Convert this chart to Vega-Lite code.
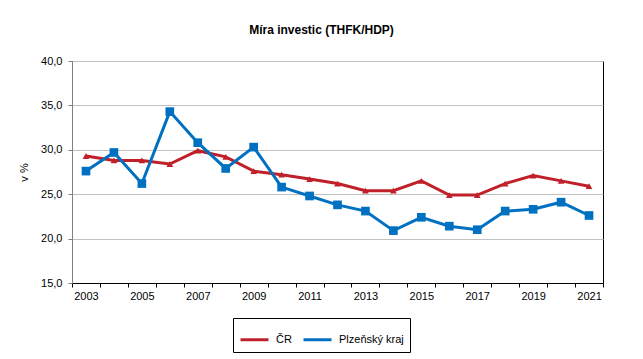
{
  "$schema": "https://vega.github.io/schema/vega-lite/v6.json",
  "autosize": "none",
  "width": 531,
  "height": 222,
  "padding": {"left": 72, "top": 61, "right": 40, "bottom": 76},
  "background": "white",
  "title": {
    "text": "Míra investic (THFK/HDP)",
    "anchor": "middle",
    "frame": "group",
    "dx": -16,
    "baseline": "alphabetic",
    "offset": 9,
    "font": "Liberation Sans",
    "fontSize": 12,
    "fontWeight": "bold",
    "color": "black"
  },
  "config": {
    "font": "Liberation Sans",
    "view": {"stroke": "black", "strokeWidth": 1}
  },
  "data": {
    "values": [
      {"rok": "2003", "serie": "ČR", "hodnota": 29.3},
      {"rok": "2004", "serie": "ČR", "hodnota": 28.8},
      {"rok": "2005", "serie": "ČR", "hodnota": 28.8},
      {"rok": "2006", "serie": "ČR", "hodnota": 28.4},
      {"rok": "2007", "serie": "ČR", "hodnota": 29.9},
      {"rok": "2008", "serie": "ČR", "hodnota": 29.2},
      {"rok": "2009", "serie": "ČR", "hodnota": 27.6},
      {"rok": "2010", "serie": "ČR", "hodnota": 27.2},
      {"rok": "2011", "serie": "ČR", "hodnota": 26.7},
      {"rok": "2012", "serie": "ČR", "hodnota": 26.2},
      {"rok": "2013", "serie": "ČR", "hodnota": 25.4},
      {"rok": "2014", "serie": "ČR", "hodnota": 25.4},
      {"rok": "2015", "serie": "ČR", "hodnota": 26.5},
      {"rok": "2016", "serie": "ČR", "hodnota": 24.9},
      {"rok": "2017", "serie": "ČR", "hodnota": 24.9},
      {"rok": "2018", "serie": "ČR", "hodnota": 26.2},
      {"rok": "2019", "serie": "ČR", "hodnota": 27.1},
      {"rok": "2020", "serie": "ČR", "hodnota": 26.5},
      {"rok": "2021", "serie": "ČR", "hodnota": 25.9},
      {"rok": "2003", "serie": "Plzeňský kraj", "hodnota": 27.6},
      {"rok": "2004", "serie": "Plzeňský kraj", "hodnota": 29.7},
      {"rok": "2005", "serie": "Plzeňský kraj", "hodnota": 26.2},
      {"rok": "2006", "serie": "Plzeňský kraj", "hodnota": 34.3},
      {"rok": "2007", "serie": "Plzeňský kraj", "hodnota": 30.8},
      {"rok": "2008", "serie": "Plzeňský kraj", "hodnota": 27.9},
      {"rok": "2009", "serie": "Plzeňský kraj", "hodnota": 30.3},
      {"rok": "2010", "serie": "Plzeňský kraj", "hodnota": 25.8},
      {"rok": "2011", "serie": "Plzeňský kraj", "hodnota": 24.8},
      {"rok": "2012", "serie": "Plzeňský kraj", "hodnota": 23.8},
      {"rok": "2013", "serie": "Plzeňský kraj", "hodnota": 23.1},
      {"rok": "2014", "serie": "Plzeňský kraj", "hodnota": 20.9},
      {"rok": "2015", "serie": "Plzeňský kraj", "hodnota": 22.4},
      {"rok": "2016", "serie": "Plzeňský kraj", "hodnota": 21.4},
      {"rok": "2017", "serie": "Plzeňský kraj", "hodnota": 21.0},
      {"rok": "2018", "serie": "Plzeňský kraj", "hodnota": 23.1},
      {"rok": "2019", "serie": "Plzeňský kraj", "hodnota": 23.3},
      {"rok": "2020", "serie": "Plzeňský kraj", "hodnota": 24.1},
      {"rok": "2021", "serie": "Plzeňský kraj", "hodnota": 22.6}
    ]
  },
  "encoding": {
    "x": {
      "field": "rok",
      "type": "ordinal",
      "scale": {"type": "band", "paddingInner": 0, "paddingOuter": 0},
      "axis": {
        "title": null,
        "labelAngle": 0,
        "tickBand": "extent",
        "labelExpr": "toNumber(datum.value) % 2 == 1 ? datum.value : ''",
        "domainColor": "black",
        "tickColor": "black",
        "tickSize": 4,
        "labelFontSize": 11,
        "labelColor": "black",
        "labelPadding": 3,
        "grid": false
      }
    },
    "y": {
      "field": "hodnota",
      "type": "quantitative",
      "scale": {"domain": [15, 40], "nice": false, "zero": false},
      "axis": {
        "title": "v %",
        "titleFontSize": 11,
        "titleFontWeight": "normal",
        "titleColor": "black",
        "titlePadding": 11,
        "values": [15, 20, 25, 30, 35, 40],
        "labelExpr": "replace(format(datum.value, '.1f'), '.', ',')",
        "labelFontSize": 11,
        "labelColor": "black",
        "labelPadding": 6,
        "domainColor": "#808080",
        "tickColor": "#808080",
        "tickSize": 4,
        "gridColor": "#c0c0c0",
        "gridWidth": 1
      }
    }
  },
  "layer": [
    {
      "mark": {"type": "line", "strokeWidth": 3},
      "encoding": {
        "stroke": {
          "field": "serie",
          "type": "nominal",
          "scale": {"domain": ["ČR", "Plzeňský kraj"], "range": ["#c0202a", "#0070c0"]},
          "legend": {
            "title": null,
            "orient": "none",
            "legendX": 161,
            "legendY": 257,
            "direction": "horizontal",
            "strokeColor": "black",
            "padding": 6,
            "symbolType": "stroke",
            "symbolStrokeWidth": 3,
            "symbolSize": 784,
            "labelFontSize": 11,
            "labelColor": "black",
            "columnPadding": 5,
            "labelOffset": 6
          }
        }
      }
    },
    {
      "transform": [{"filter": "datum.serie === 'ČR'"}],
      "mark": {"type": "point", "filled": true, "opacity": 1, "strokeWidth": 0, "shape": "triangle-up", "size": 45, "color": "#c0202a"},
      "encoding": {}
    },
    {
      "transform": [{"filter": "datum.serie === 'Plzeňský kraj'"}],
      "mark": {"type": "point", "filled": true, "opacity": 1, "strokeWidth": 0, "shape": "square", "size": 75, "color": "#0070c0"},
      "encoding": {}
    }
  ]
}
